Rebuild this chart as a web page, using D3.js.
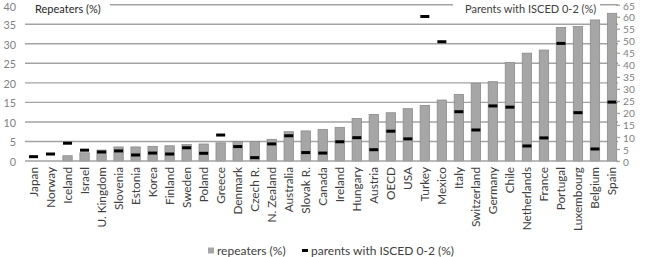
<!DOCTYPE html>
<html><head><meta charset="utf-8">
<script src="https://cdn.jsdelivr.net/npm/d3@7"></script>
<style>body{margin:0;background:#fff;} svg{display:block;font-family:Lato,"Open Sans",sans-serif;}</style>
</head><body><svg id="c" width="646" height="257"></svg>
<script>
const categories = ["Japan","Norway","Iceland","Israel","U. Kingdom","Slovenia","Estonia","Korea","Finland","Sweden","Poland","Greece","Denmark","Czech R.","N. Zealand","Australia","Slovak R.","Canada","Ireland","Hungary","Austria","OECD","USA","Turkey","Mexico","Italy","Switzerland","Germany","Chile","Netherlands","France","Portugal","Luxembourg","Belgium","Spain"];
const repeaters = [0,0,1.35,2.1,2.8,3.6,3.6,3.75,3.9,4.2,4.35,4.65,5.0,5.0,5.55,7.5,7.7,8.1,8.6,10.9,11.9,12.35,13.4,14.2,15.6,17.05,19.9,20.3,25.2,27.6,28.4,34.2,34.4,36.1,37.8];
const parents = [1.8,2.9,7.4,4.5,3.75,4.2,2.5,3.3,2.9,5.5,3.2,10.8,6.0,1.4,7.1,10.5,3.5,3.3,8.0,9.7,4.7,12.4,9.2,60.1,49.6,20.5,12.9,22.9,22.4,6.25,9.6,48.9,20.1,5.0,24.5];
const leftTicks = [0,5,10,15,20,25,30,35,40];
const rightTicks = [0,5,10,15,20,25,30,35,40,45,50,55,60,65];
const seriesNames = ["repeaters (%)","parents with ISCED 0-2 (%)"];
const axisTitles = ["Repeaters (%)","Parents with  ISCED 0-2 (%)"];

const svg = d3.select("#c");
const x0 = 25, x1 = 620.5, gridEnd = 618, yBase = 161, yTop = 4.7;
const x = d3.scaleBand().domain(categories).range([x0, x1]).paddingInner(0.45).paddingOuter(0.225);
const yL = d3.scaleLinear().domain([0,40]).range([yBase, yTop]);
const yR = d3.scaleLinear().domain([0,65]).range([yBase, yTop]);

// gridlines
svg.append("g").selectAll("line").data(leftTicks.slice(1)).join("line")
  .attr("x1", x0).attr("x2", gridEnd).attr("y1", d=>yL(d)).attr("y2", d=>yL(d))
  .attr("stroke", "#a3a3a3").attr("stroke-width", 1.4);

// bars
svg.append("g").selectAll("rect").data(categories).join("rect")
  .attr("x", d=>x(d)).attr("width", x.bandwidth())
  .attr("y", (d,i)=>yL(repeaters[i])).attr("height", (d,i)=>yBase - yL(repeaters[i]))
  .attr("fill", "#a6a6a6").attr("stroke", "#8c8c8c").attr("stroke-width", 0.8);

// baseline
svg.append("line").attr("x1", x0).attr("x2", gridEnd).attr("y1", yBase).attr("y2", yBase)
  .attr("stroke", "#a3a3a3").attr("stroke-width", 1.4);

// markers
svg.append("g").selectAll("rect").data(categories).join("rect")
  .attr("x", d=>x(d)+x.bandwidth()/2-4.5).attr("width", 9)
  .attr("y", (d,i)=>yR(parents[i])-1.5).attr("height", 3)
  .attr("fill", "#000");

// axes
const gL = svg.append("g").attr("transform", `translate(${x0-9},0.6)`)
  .call(d3.axisLeft(yL).tickValues(leftTicks).tickSize(0).tickPadding(0));
const gR = svg.append("g").attr("transform", `translate(${gridEnd-2},0.6)`)
  .call(d3.axisRight(yR).tickValues(rightTicks).tickSize(4).tickPadding(3));
gL.select(".domain").remove();
gR.select(".domain").remove();
gR.selectAll(".tick line").attr("stroke","#a3a3a3").attr("stroke-width",1.3).attr("transform","translate(0,-0.6)");
gR.selectAll(".tick text").attr("dy","0.34em");
gL.selectAll(".tick text").attr("dy","0.34em");
gL.selectAll("text").attr("font-family","Lato,sans-serif").attr("font-size",10.8).attr("fill","#7f7f7f");
gR.selectAll("text").attr("font-family","Lato,sans-serif").attr("font-size",10.2).attr("fill","#7f7f7f");
[gL,gR].forEach(g=>{
  g.selectAll(".tick").filter((d,i,n)=>i===n.length-1).select("text").attr("dy","0.44em");
});

// x axis labels
const gX = svg.append("g").attr("transform", `translate(0,${yBase})`)
  .call(d3.axisBottom(x).tickSize(0).tickPadding(0));
gX.select(".domain").remove();
gX.selectAll("text").attr("font-family","Lato,sans-serif").attr("font-size",11.8).attr("fill","#404040")
  .attr("transform","rotate(-90)").attr("text-anchor","end").attr("dx","-6").attr("dy","0.35em").attr("y",0).attr("x",0);

// axis titles over top gridline
svg.append("rect").attr("x", x0).attr("y", 0).attr("width", 85).attr("height", 12).attr("fill","#fff");
svg.append("text").attr("x", 35).attr("y", 9).attr("dy","0.35em").attr("font-size",11).attr("fill","#262626").text(axisTitles[0]);
svg.append("rect").attr("x", 453).attr("y", 0).attr("width", 147).attr("height", 12).attr("fill","#fff");
svg.append("text").attr("x", 465).attr("y", 9).attr("dy","0.35em").attr("font-size",11).attr("fill","#404040").text(axisTitles[1]);

// legend
const lg = svg.append("g");
lg.append("rect").attr("x",208).attr("y",247.5).attr("width",6).attr("height",6).attr("fill","#a6a6a6");
lg.append("text").attr("x",217).attr("y",250.5).attr("dy","0.35em").attr("font-size",12).attr("fill","#404040").text(seriesNames[0]);
lg.append("rect").attr("x",302).attr("y",249).attr("width",6).attr("height",3).attr("fill","#000");
lg.append("text").attr("x",311).attr("y",250.5).attr("dy","0.35em").attr("font-size",12).attr("fill","#404040").text(seriesNames[1]);
</script></body></html>
